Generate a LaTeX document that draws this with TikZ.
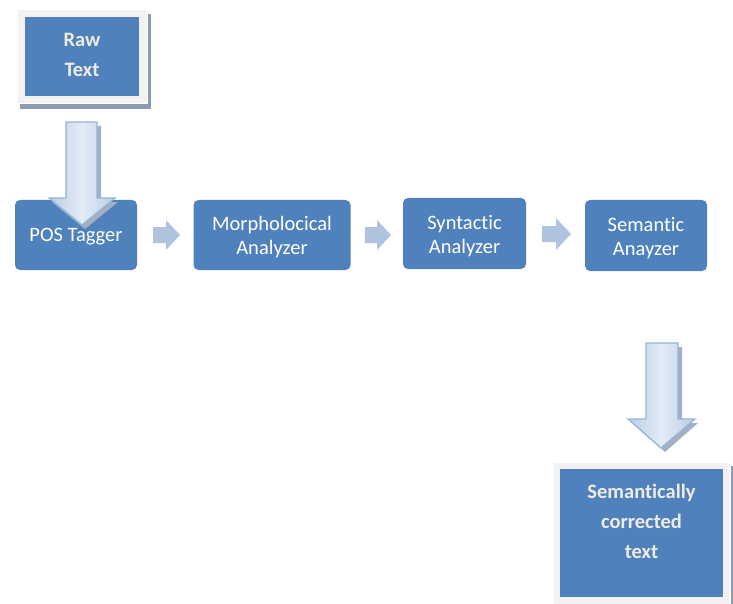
\documentclass[tikz,border=0pt]{standalone}
\usepackage{fontspec}
\setmainfont{Carlito}[Ligatures=NoCommon]
\definecolor{boxblue}{HTML}{4F81BD}
\definecolor{framegray}{HTML}{F2F2F2}
\definecolor{shadowgray}{HTML}{8C9CB4}
\definecolor{cream}{HTML}{EEECE1}
\definecolor{smallarrow}{HTML}{AFC3E0}
\definecolor{bigborder}{HTML}{95B3D7}
\definecolor{bigdark}{HTML}{B9CDE5}
\definecolor{bigmid}{HTML}{E4ECF6}
\tikzset{
  stagebox/.style={fill=boxblue, draw=none, rounded corners=5pt, inner sep=0pt},
  stagetext/.style={text=white, align=center, font=\fontsize{20.5}{24}\selectfont, inner sep=0pt},
  termbox/.style={fill=boxblue, draw=none, inner sep=0pt},
  termtext/.style={text=cream, align=center, font=\fontsize{20.5}{30}\selectfont\bfseries, inner sep=0pt},
  smallarr/.style={fill=smallarrow, draw=none},
  bigarr/.style={left color=bigdark, right color=bigdark, middle color=bigmid, draw=bigborder, line width=1.2pt, line join=miter},
  bigshadow/.style={fill=shadowgray!80, draw=none}
}
\begin{document}
\begin{tikzpicture}[x=1pt,y=-1pt]
\useasboundingbox (0,0) rectangle (733,604);
% Raw text
\fill[shadowgray] (20,14) rectangle (151,109);
\draw[white, line width=0.8pt, fill=framegray] (17,9) rectangle (147,103);
\node[termbox, minimum width=114pt, minimum height=79pt] (raw) at (82,56.5) {};
\node[termtext] (rawtext) at (82,55) {Raw\\Text};

% stages
\node[stagebox, minimum width=122pt, minimum height=70pt] (pos) at (76,235) {};
\node[stagetext] (postext) at (76,237) {POS Tagger};
\node[stagebox, minimum width=157pt, minimum height=70pt] (morph) at (272,235) {};
\node[stagetext] (morphtext) at (272,237.5) {Morpholocical\\Analyzer};
\node[stagebox, minimum width=123pt, minimum height=71pt] (syn) at (464.5,233.5) {};
\node[stagetext] (syntext) at (464.5,236) {Syntactic\\Analyzer};
\node[stagebox, minimum width=122pt, minimum height=71pt] (sem) at (646,235.5) {};
\node[stagetext] (semtext) at (646,238) {Semantic\\Anayzer};

% big arrow 1 (shadow then arrow)
\fill[bigshadow] (70,126) -- (101,126) -- (101,202) -- (118,202) -- (85,229) -- (52,202) -- (70,202) -- cycle;
\draw[bigarr] (66,122) -- (97,122) -- (97,198) -- (115,198) -- (82,225) -- (49,198) -- (66,198) -- cycle;

% small arrows
\fill[smallarr] (153,227) -- (166,227) -- (166,220) -- (180,235) -- (166,250) -- (166,243) -- (153,243) -- cycle;
\fill[smallarr] (365,227) -- (377,227) -- (377,220) -- (391,235) -- (377,250) -- (377,243) -- (365,243) -- cycle;
\fill[smallarr] (542,226) -- (556,226) -- (556,218) -- (571,234) -- (556,250) -- (556,242) -- (542,242) -- cycle;

% big arrow 2
\fill[bigshadow] (650,347) -- (682,347) -- (682,423) -- (698,423) -- (665,452) -- (632,423) -- (650,423) -- cycle;
\draw[bigarr] (646,343) -- (678,343) -- (678,419) -- (695,419) -- (661,448) -- (628,419) -- (646,419) -- cycle;

% final box
\fill[shadowgray] (557,466) rectangle (733,610);
\draw[white, line width=0.8pt, fill=framegray] (553,462) rectangle (730,610);
\node[termbox, minimum width=163pt, minimum height=128pt] (out) at (641.5,533) {};
\node[termtext, anchor=north] (outtext) at (641.5,484) {Semantically\\corrected\\text};
\end{tikzpicture}
\end{document}
